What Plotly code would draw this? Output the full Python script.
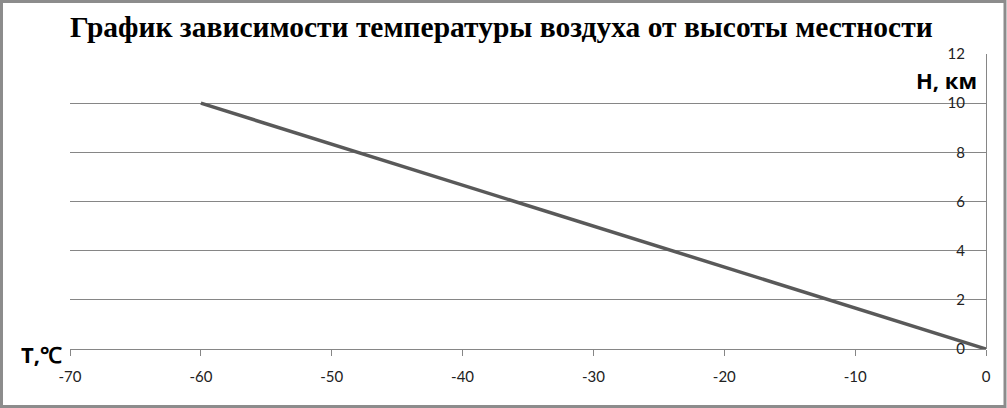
import plotly.graph_objects as go

temperature = [-60, 0]
height_km = [10, 0]
x_tick_values = [-70, -60, -50, -40, -30, -20, -10, 0]
x_tick_labels = ["-70", "-60", "-50", "-40", "-30", "-20", "-10", "0"]

W, H = 1007, 408
L, R, T, B = 70, 986, 54, 349
pw, ph = R - L, B - T

fig = go.Figure()
fig.add_trace(go.Scatter(x=temperature, y=height_km, mode="lines",
                         line=dict(color="#595959", width=3.5), showlegend=False,
                         hoverinfo="skip"))

tick_font = dict(family="Lato, Open Sans, sans-serif", size=15, color="#222222")

fig.update_layout(
    width=W, height=H,
    margin=dict(l=L, r=W - R, t=T, b=H - B, pad=0),
    paper_bgcolor="white", plot_bgcolor="white",
    xaxis=dict(range=[-70, 0], tickvals=x_tick_values, ticktext=x_tick_labels,
               showgrid=False, zeroline=False,
               showline=True, linecolor="#868686", linewidth=1,
               ticks="outside", ticklen=6, tickcolor="#868686",
               tickfont=tick_font, ticklabelstandoff=8),
    yaxis=dict(range=[0, 12], dtick=2, anchor="free", position=1, side="left",
               showgrid=True, gridcolor="#868686", gridwidth=1, zeroline=False,
               showline=True, linecolor="#868686", linewidth=1,
               ticks="", ticklabelstandoff=18, automargin=False,
               tickfont=tick_font),
    annotations=[
        dict(text="<b>График зависимости температуры воздуха от высоты местности</b>",
             xref="paper", yref="paper", x=(501 - L) / pw, y=(B - 27) / ph,
             xanchor="center", yanchor="middle", showarrow=False,
             font=dict(family="Liberation Serif, Times New Roman, serif", size=29.5, color="black")),
        dict(text="<b>H, км</b>", xref="paper", yref="paper",
             x=(979 - L) / pw, y=(B - 80) / ph, xanchor="right", yanchor="middle",
             showarrow=False, font=dict(family="Open Sans, sans-serif", size=22, color="black")),
        dict(text="<b>T,℃</b>", xref="paper", yref="paper",
             x=(19 - L) / pw, y=(B - 354) / ph, xanchor="left", yanchor="middle",
             showarrow=False, font=dict(family="Open Sans, sans-serif", size=22, color="black")),
    ],
    shapes=[dict(type="rect", xref="paper", yref="paper",
                 x0=(1.5 - L) / pw, x1=(1005 - L) / pw,
                 y0=(B - 406.5) / ph, y1=(B - 1.5) / ph,
                 line=dict(color="#8c8c8c", width=3), fillcolor="rgba(0,0,0,0)", layer="below")],
)

fig.write_html("out.html", config={"displayModeBar": False},
               post_script="document.body.style.margin='0';document.body.style.padding='0';")
